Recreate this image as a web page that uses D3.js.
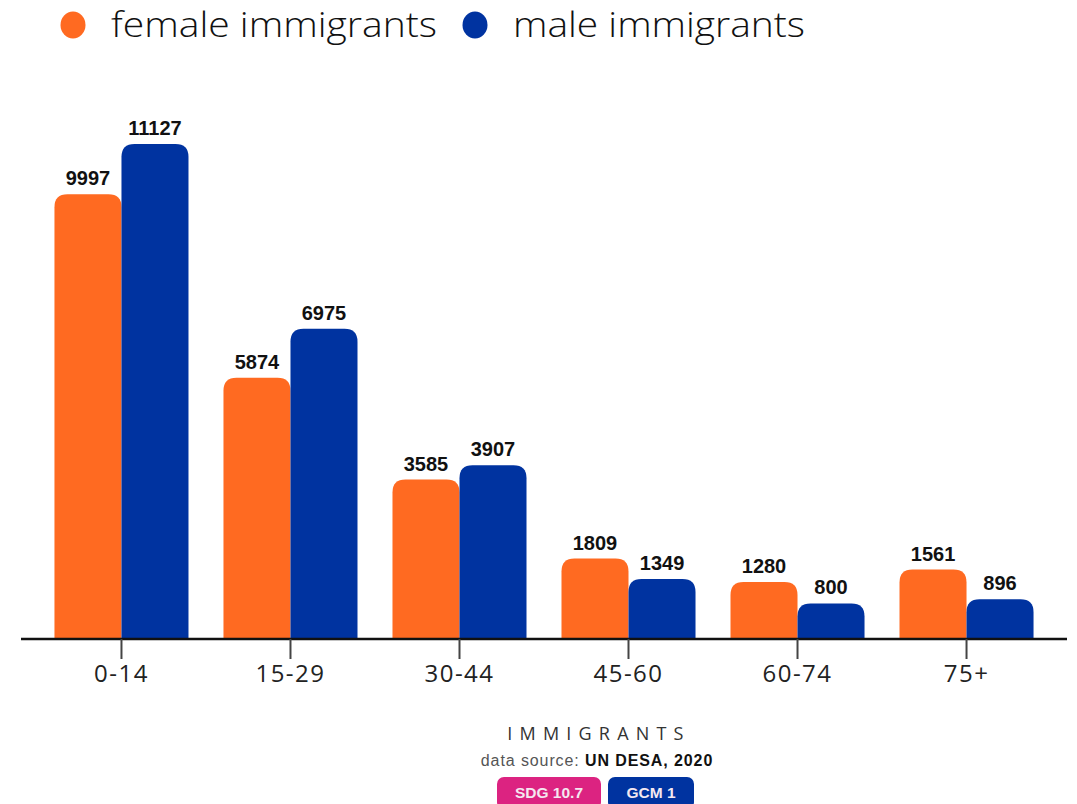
<!DOCTYPE html>
<html>
<head>
<meta charset="utf-8">
<script src="https://cdn.jsdelivr.net/npm/d3@7"></script>
<style>
  html, body { margin: 0; padding: 0; background: #fff; }
  svg { display: block; }
</style>
</head>
<body>
<svg id="chart" width="1077" height="804"></svg>
<script>
const categories = ["0-14", "15-29", "30-44", "45-60", "60-74", "75+"];
const seriesNames = ["female immigrants", "male immigrants"];
const femaleValues = [9997, 5874, 3585, 1809, 1280, 1561];
const maleValues = [11127, 6975, 3907, 1349, 800, 896];
const seriesColors = ["#ff6a21", "#0033a0"];
const badges = [{ text: "SDG 10.7", color: "#dc2381" }, { text: "GCM 1", color: "#0033a0" }];

const svg = d3.select("#chart");
const baseY = 639;
const axisLeft = 21, axisRight = 1067;

const x = d3.scaleBand().domain(categories).range([axisLeft, axisRight])
  .paddingInner(0.207).paddingOuter(0.198);
const xs = d3.scaleBand().domain(seriesNames).range([0, x.bandwidth()]).padding(0);
const y = d3.scaleLinear().domain([0, 11127]).range([baseY, 144]);

const data = categories.map((c, i) => ({
  cat: c,
  vals: [
    { s: seriesNames[0], v: femaleValues[i], color: seriesColors[0] },
    { s: seriesNames[1], v: maleValues[i], color: seriesColors[1] }
  ]
}));

function topRounded(x0, y0, w, h, r) {
  r = Math.min(r, h, w / 2);
  return `M${x0},${y0 + h}V${y0 + r}Q${x0},${y0} ${x0 + r},${y0}H${x0 + w - r}Q${x0 + w},${y0} ${x0 + w},${y0 + r}V${y0 + h}Z`;
}

const groups = svg.append("g").selectAll("g").data(data).join("g")
  .attr("transform", d => `translate(${x(d.cat)},0)`);

groups.selectAll("path").data(d => d.vals).join("path")
  .attr("d", d => topRounded(xs(d.s), y(d.v), xs.bandwidth(), baseY - y(d.v), 13))
  .attr("fill", d => d.color);

groups.selectAll("text").data(d => d.vals).join("text")
  .attr("x", d => xs(d.s) + xs.bandwidth() / 2)
  .attr("y", d => y(d.v) - 9)
  .attr("text-anchor", "middle")
  .attr("font-family", "Liberation Sans, Arial, sans-serif")
  .attr("font-weight", "bold")
  .attr("font-size", 20)
  .attr("fill", "#111")
  .text(d => d.v);

// axis
const axisG = svg.append("g").attr("transform", `translate(0,${baseY})`)
  .call(d3.axisBottom(x).tickSize(20).tickPadding(6).tickSizeOuter(0));
axisG.select(".domain").attr("d", `M${axisLeft},0H${axisRight}`).attr("stroke", "#111").attr("stroke-width", 2.5);
axisG.selectAll(".tick line").attr("stroke", "#444").attr("stroke-width", 2);
axisG.selectAll(".tick text")
  .attr("font-family", "Open Sans, sans-serif")
  .attr("font-size", 24)
  .attr("letter-spacing", 1.5)
  .attr("fill", "#222");

// legend
const legend = svg.append("g");
const legendItems = [
  { name: seriesNames[0], color: seriesColors[0], cx: 73, tx: 111, len: 326 },
  { name: seriesNames[1], color: seriesColors[1], cx: 475, tx: 513, len: 292 }
];
legend.selectAll("ellipse").data(legendItems).join("ellipse")
  .attr("cx", d => d.cx).attr("cy", 25).attr("rx", 12.5).attr("ry", 13.5)
  .attr("fill", d => d.color);
legend.selectAll("text").data(legendItems).join("text")
  .attr("x", d => d.tx).attr("y", 37)
  .attr("font-family", "Open Sans, sans-serif")
  .attr("font-weight", 300)
  .attr("font-size", 35)
  .attr("fill", "#111")
  .attr("textLength", d => d.len)
  .attr("lengthAdjust", "spacingAndGlyphs")
  .text(d => d.name);

// footer
svg.append("text")
  .attr("x", 599).attr("y", 740)
  .attr("text-anchor", "middle")
  .attr("font-family", "Open Sans, sans-serif")
  .attr("font-size", 18)
  .attr("letter-spacing", 7.2)
  .attr("fill", "#333")
  .text("IMMIGRANTS");

const src = svg.append("text")
  .attr("x", 597).attr("y", 766)
  .attr("text-anchor", "middle")
  .attr("font-family", "Liberation Sans, Arial, sans-serif")
  .attr("font-size", 16)
  .attr("letter-spacing", 0.9);
src.append("tspan").attr("fill", "#555").text("data source: ");
src.append("tspan").attr("fill", "#111").attr("font-weight", "bold").text("UN DESA, 2020");

const badgeX = [497, 608], badgeW = [104, 86];
const bg = svg.append("g").selectAll("g").data(badges).join("g")
  .attr("transform", (d, i) => `translate(${badgeX[i]},777)`);
bg.append("rect").attr("width", (d, i) => badgeW[i]).attr("height", 32).attr("rx", 7)
  .attr("fill", d => d.color);
bg.append("text")
  .attr("x", (d, i) => badgeW[i] / 2).attr("y", 21)
  .attr("text-anchor", "middle")
  .attr("font-family", "Liberation Sans, Arial, sans-serif")
  .attr("font-weight", "bold")
  .attr("font-size", 15.5)
  .attr("fill", "#f4e8f0")
  .text(d => d.text);
</script>
</body>
</html>
